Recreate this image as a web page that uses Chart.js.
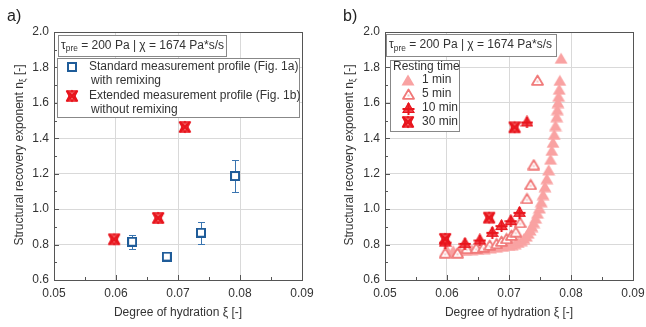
<!DOCTYPE html>
<html>
<head>
<meta charset="utf-8">
<script src="https://cdn.jsdelivr.net/npm/chart.js@4.4.1/dist/chart.umd.min.js"></script>
<style>
  html, body { margin: 0; padding: 0; background: #fff; }
  #chartA { position: absolute; left: 0; top: 0; }
  #chartB { position: absolute; left: 330px; top: 0; }
</style>
</head>
<body>
<canvas id="chartA" width="330" height="327"></canvas>
<canvas id="chartB" width="316" height="327"></canvas>
<script>
// axes (same for both panels)
var xMin = 0.05, xMax = 0.09, xStep = 0.01;
var yMin = 0.6, yMax = 2.0, yStep = 0.2;

// panel a) standard measurement profile, with remixing (+ error)
var stdX = [0.0626, 0.0682, 0.0737, 0.0792];
var stdY = [0.816, 0.732, 0.867, 1.187];
var stdErr = [0.040, 0.010, 0.062, 0.092];
// panel a) extended measurement profile, without remixing
var extX = [0.0597, 0.0668, 0.0711];
var extY = [0.830, 0.950, 1.464];

// panel b) resting time series
var rest1X = [0.0600, 0.0610, 0.0620, 0.0630, 0.0640, 0.0650, 0.0660, 0.0670, 0.0680, 0.0690,
              0.0700, 0.0705, 0.0710, 0.0715, 0.0720, 0.0724, 0.0728, 0.0731, 0.0734, 0.0737,
              0.0740, 0.0743, 0.0746, 0.0749, 0.0752, 0.0755, 0.0758, 0.0761, 0.0764, 0.0767,
              0.0769, 0.0771, 0.0773, 0.0775, 0.0777, 0.0778, 0.0779, 0.0780, 0.0781, 0.0782, 0.0784];
var rest1Y = [0.768, 0.766, 0.767, 0.769, 0.771, 0.774, 0.777, 0.781, 0.785, 0.790,
              0.796, 0.800, 0.805, 0.812, 0.822, 0.834, 0.848, 0.864, 0.882, 0.902,
              0.924, 0.949, 0.977, 1.007, 1.042, 1.082, 1.127, 1.172, 1.222, 1.282,
              1.332, 1.377, 1.422, 1.472, 1.522, 1.562, 1.602, 1.637, 1.677, 1.727, 1.852];
var rest5X = [0.0597, 0.0617, 0.0632, 0.0647, 0.0659, 0.0669, 0.0680, 0.0688, 0.0696, 0.0704,
              0.0711, 0.0718, 0.0729, 0.0735, 0.0740, 0.0746];
var rest5Y = [0.754, 0.754, 0.779, 0.782, 0.788, 0.798, 0.807, 0.820, 0.835, 0.854,
              0.873, 0.925, 1.061, 1.140, 1.252, 1.729];
var rest10X = [0.0597, 0.0629, 0.0653, 0.0673, 0.0688, 0.0703, 0.0717, 0.0729];
var rest10Y = [0.814, 0.807, 0.826, 0.869, 0.907, 0.935, 0.982, 1.492];
var rest30X = [0.0597, 0.0668, 0.0709];
var rest30Y = [0.832, 0.952, 1.462];

var FONT = '"Liberation Sans", Arial, sans-serif';
var TXT = '#333';

function pts(xs, ys) {
  return xs.map(function (x, i) { return { x: x, y: ys[i] }; });
}

// little canvases used as point styles
function marker(w, h, draw) {
  var c = document.createElement('canvas');
  c.width = w; c.height = h;
  draw(c.getContext('2d'));
  return c;
}
var squareMk = marker(10, 10, function (g) {
  g.fillStyle = '#fff'; g.fillRect(1, 1, 8, 8);
  g.strokeStyle = '#1f5c99'; g.lineWidth = 2; g.strokeRect(1, 1, 8, 8);
});
var xstarMk = marker(14, 14, function (g) {
  g.strokeStyle = '#e8141c'; g.fillStyle = 'rgba(240,80,80,0.55)';
  g.lineWidth = 1.4; g.lineJoin = 'round';
  g.beginPath(); g.moveTo(7, 1.5); g.lineTo(12.5, 12); g.lineTo(1.5, 12); g.closePath(); g.fill(); g.stroke();
  g.beginPath(); g.moveTo(1.5, 2); g.lineTo(12.5, 2); g.lineTo(7, 12.5); g.closePath(); g.fill(); g.stroke();
  g.lineWidth = 2.2;
  g.beginPath(); g.moveTo(2, 2); g.lineTo(12, 12); g.moveTo(12, 2); g.lineTo(2, 12); g.stroke();
});
var tri10Mk = marker(13, 13, function (g) {
  g.fillStyle = '#f04048'; g.strokeStyle = '#e8141c'; g.lineWidth = 1.2;
  g.beginPath(); g.moveTo(6.5, 1); g.lineTo(12, 10.5); g.lineTo(1, 10.5); g.closePath(); g.fill(); g.stroke();
  g.lineWidth = 2;
  g.beginPath(); g.moveTo(0.5, 7); g.lineTo(12.5, 7); g.moveTo(6.5, 1); g.lineTo(6.5, 13); g.stroke();
});
var tri5Mk = marker(13, 12, function (g) {
  g.fillStyle = '#fff'; g.strokeStyle = '#f07878'; g.lineWidth = 1.8; g.lineJoin = 'round';
  g.beginPath(); g.moveTo(6.5, 1.5); g.lineTo(12, 10.8); g.lineTo(1, 10.8); g.closePath(); g.fill(); g.stroke();
  g.fillStyle = 'rgba(240,120,120,0.45)'; g.fillRect(5.5, 6.5, 2, 2);
});
var tri1Mk = marker(14, 12, function (g) {
  g.fillStyle = '#f9a2a2';
  g.beginPath(); g.moveTo(7, 0.5); g.lineTo(13.5, 11.5); g.lineTo(0.5, 11.5); g.closePath(); g.fill();
});

// text with a subscript part: parts = [[text, isSub], ...]
function richWidth(ctx, parts, size) {
  var w = 0;
  parts.forEach(function (p) {
    ctx.font = (p[1] ? size * 0.7 : size) + 'px ' + FONT;
    w += ctx.measureText(p[0]).width;
  });
  return w;
}
function drawRich(ctx, parts, x, y, size) {
  ctx.textBaseline = 'middle';
  ctx.textAlign = 'left';
  parts.forEach(function (p) {
    ctx.font = (p[1] ? size * 0.7 : size) + 'px ' + FONT;
    ctx.fillText(p[0], x, p[1] ? y + size * 0.3 : y);
    x += ctx.measureText(p[0]).width;
  });
}

var tauText = [['\u03c4', false], ['pre', true], [' = 200 Pa | \u03c7 = 1674 Pa*s/s', false]];
var yTitle = [['Structural recovery exponent n', false], ['\u03be', true], [' [-]', false]];
var xTitle = 'Degree of hydration \u03be [-]';

function decor(cfg) {
  return {
    id: 'decor',
    beforeDatasetsDraw: function (chart) {
      if (cfg.errors) cfg.errors(chart);
    },
    afterDraw: function (chart) {
      var ctx = chart.ctx, a = chart.chartArea;
      var xs = chart.scales.x, ys = chart.scales.y;
      ctx.save();
      // frame
      ctx.strokeStyle = '#555'; ctx.lineWidth = 1;
      ctx.strokeRect(Math.round(a.left) + 0.5, Math.round(a.top) + 0.5,
                     Math.round(a.right - a.left), Math.round(a.bottom - a.top));
      // inward ticks on left and bottom axes
      ctx.beginPath();
      var v, p, k;
      for (k = 0; k <= Math.round((yMax - yMin) / (yStep / 2)); k++) {
        v = yMin + k * yStep / 2;
        p = Math.round(ys.getPixelForValue(v)) + 0.5;
        ctx.moveTo(a.left, p); ctx.lineTo(a.left + (k % 2 ? 3 : 5), p);
      }
      for (k = 0; k <= Math.round((xMax - xMin) / (xStep / 2)); k++) {
        v = xMin + k * xStep / 2;
        p = Math.round(xs.getPixelForValue(v)) + 0.5;
        ctx.moveTo(p, a.bottom); ctx.lineTo(p, a.bottom - (k % 2 ? 3 : 5));
      }
      ctx.stroke();

      // axis titles
      ctx.fillStyle = TXT;
      ctx.font = '12px ' + FONT;
      ctx.textAlign = 'center'; ctx.textBaseline = 'middle';
      ctx.fillText(xTitle, (a.left + a.right) / 2, 313);
      ctx.save();
      ctx.translate(20, 155);
      ctx.rotate(-Math.PI / 2);
      drawRich(ctx, yTitle, -richWidth(ctx, yTitle, 12) / 2, 0, 12);
      ctx.restore();

      // panel letter
      ctx.font = '16px ' + FONT;
      ctx.textAlign = 'left'; ctx.textBaseline = 'alphabetic';
      ctx.fillStyle = '#222';
      ctx.fillText(cfg.letter, cfg.letterX, 21);

      // parameter box
      var tb = cfg.tauBox;
      ctx.fillStyle = '#fff'; ctx.strokeStyle = '#888';
      ctx.fillRect(tb[0], tb[1], tb[2], tb[3]);
      ctx.strokeRect(tb[0] + 0.5, tb[1] + 0.5, tb[2], tb[3]);
      ctx.fillStyle = TXT;
      drawRich(ctx, tauText, tb[0] + 3, tb[1] + tb[3] / 2, 12);

      // legend box
      var lb = cfg.legBox;
      ctx.fillStyle = '#fff'; ctx.strokeStyle = '#888';
      ctx.fillRect(lb[0], lb[1], lb[2], lb[3]);
      ctx.strokeRect(lb[0] + 0.5, lb[1] + 0.5, lb[2], lb[3]);
      ctx.fillStyle = TXT;
      ctx.font = '12px ' + FONT;
      ctx.textAlign = 'left'; ctx.textBaseline = 'middle';
      cfg.legItems.forEach(function (it) {
        if (it.mk) ctx.drawImage(it.mk, Math.round(it.mx - it.mk.width / 2), Math.round(it.y - it.mk.height / 2));
        ctx.fillText(it.text, it.tx, it.y);
      });
      ctx.restore();
    }
  };
}

function options(yWidth, padRight) {
  return {
    responsive: false,
    animation: false,
    layout: { padding: { left: 0, right: padRight, top: 32, bottom: 0 } },
    plugins: { legend: { display: false }, tooltip: { enabled: false } },
    scales: {
      x: {
        type: 'linear', min: xMin, max: xMax,
        border: { display: false },
        grid: { color: '#d9d9d9', drawTicks: false },
        ticks: {
          stepSize: xStep, padding: 6, color: TXT, maxRotation: 0, autoSkip: false,
          font: { family: FONT, size: 12 },
          callback: function (v) { return v.toFixed(2); }
        },
        afterFit: function (s) { s.height = 47; s.paddingLeft = 0; s.paddingRight = 0; }
      },
      y: {
        type: 'linear', min: yMin, max: yMax,
        border: { display: false },
        grid: { color: '#d9d9d9', drawTicks: false },
        ticks: {
          stepSize: yStep, padding: 5, color: TXT, autoSkip: false,
          font: { family: FONT, size: 12 },
          callback: function (v) { return v.toFixed(1); }
        },
        afterFit: function (s) { s.width = yWidth; s.paddingTop = 0; s.paddingBottom = 0; }
      }
    }
  };
}

// panel a)
new Chart(document.getElementById('chartA'), {
  type: 'scatter',
  data: {
    datasets: [
      { label: 'Extended measurement profile (Fig. 1b)', data: pts(extX, extY), pointStyle: xstarMk, pointRadius: 6, order: 0 },
      { label: 'Standard measurement profile (Fig. 1a)', data: pts(stdX, stdY), pointStyle: squareMk, pointRadius: 5, order: 1 }
    ]
  },
  options: options(54, 28),
  plugins: [decor({
    letter: 'a)', letterX: 7,
    tauBox: [58, 35, 168, 21],
    legBox: [57, 58, 242, 59],
    legItems: [
      { mk: squareMk, mx: 72, tx: 89, y: 67, text: 'Standard measurement profile (Fig. 1a)' },
      { tx: 91, y: 81, text: 'with remixing' },
      { mk: xstarMk, mx: 72, tx: 89, y: 96, text: 'Extended measurement profile (Fig. 1b)' },
      { tx: 91, y: 110, text: 'without remixing' }
    ],
    errors: function (chart) {
      var ctx = chart.ctx, xs = chart.scales.x, ys = chart.scales.y;
      ctx.save();
      ctx.strokeStyle = '#3a75b0'; ctx.lineWidth = 1;
      ctx.beginPath();
      stdX.forEach(function (x, i) {
        var px = Math.round(xs.getPixelForValue(x)) + 0.5;
        var top = Math.round(ys.getPixelForValue(stdY[i] + stdErr[i])) + 0.5;
        var bot = Math.round(ys.getPixelForValue(stdY[i] - stdErr[i])) + 0.5;
        ctx.moveTo(px, top); ctx.lineTo(px, bot);
        ctx.moveTo(px - 3.5, top); ctx.lineTo(px + 3.5, top);
        ctx.moveTo(px - 3.5, bot); ctx.lineTo(px + 3.5, bot);
      });
      ctx.stroke();
      ctx.restore();
    }
  })]
});

// panel b)
new Chart(document.getElementById('chartB'), {
  type: 'scatter',
  data: {
    datasets: [
      { label: '30 min', data: pts(rest30X, rest30Y), pointStyle: xstarMk, pointRadius: 6, order: 0 },
      { label: '10 min', data: pts(rest10X, rest10Y), pointStyle: tri10Mk, pointRadius: 6, order: 1 },
      { label: '5 min', data: pts(rest5X, rest5Y), pointStyle: tri5Mk, pointRadius: 5, order: 2 },
      { label: '1 min', data: pts(rest1X, rest1Y), pointStyle: tri1Mk, pointRadius: 5, order: 3 }
    ]
  },
  options: options(55, 13),
  plugins: [decor({
    letter: 'b)', letterX: 13,
    tauBox: [56, 34, 170, 22],
    legBox: [60, 60, 69, 71],
    legItems: [
      { tx: 63, y: 67, text: 'Resting time' },
      { mk: tri1Mk, mx: 78, tx: 92, y: 80, text: '1 min' },
      { mk: tri5Mk, mx: 78, tx: 92, y: 94, text: '5 min' },
      { mk: tri10Mk, mx: 78, tx: 92, y: 108, text: '10 min' },
      { mk: xstarMk, mx: 78, tx: 92, y: 122, text: '30 min' }
    ]
  })]
});
</script>
</body>
</html>
